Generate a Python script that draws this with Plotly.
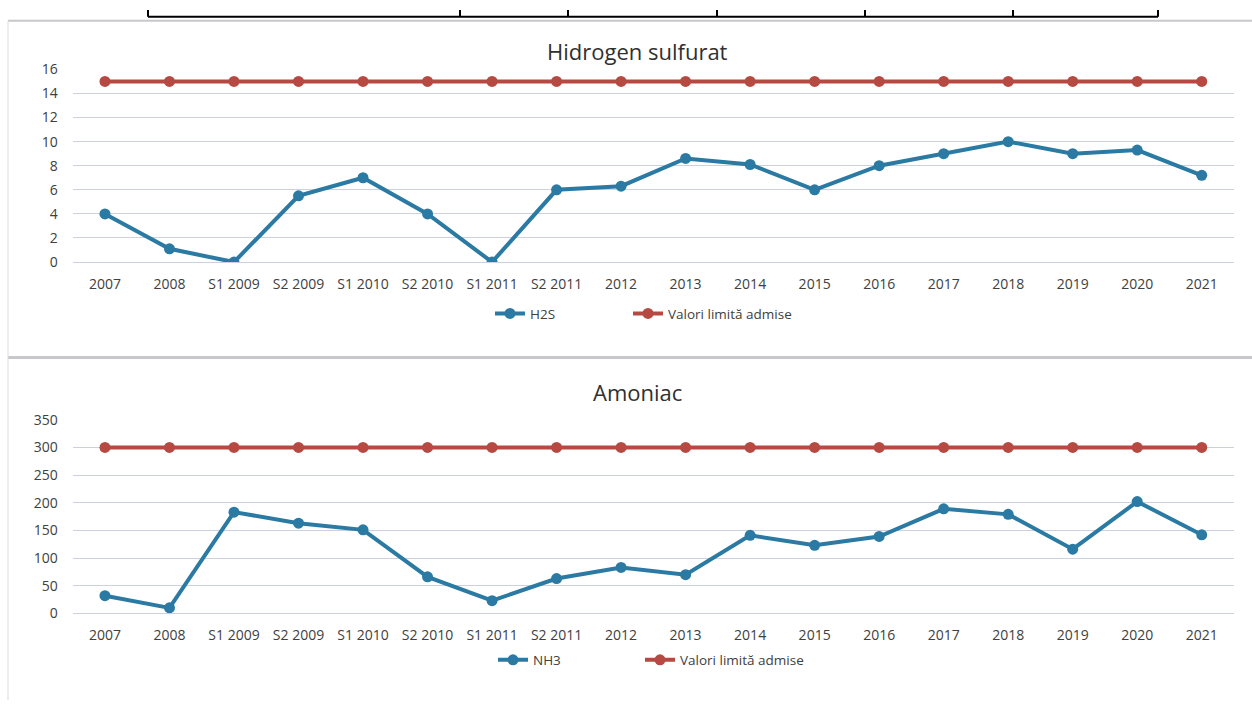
import plotly.graph_objects as go

categories = ["2007", "2008", "S1 2009", "S2 2009", "S1 2010", "S2 2010", "S1 2011", "S2 2011",
              "2012", "2013", "2014", "2015", "2016", "2017", "2018", "2019", "2020", "2021"]
h2s = [4, 1.1, 0, 5.5, 7, 4, 0, 6, 6.3, 8.6, 8.1, 6, 8, 9, 10, 9, 9.3, 7.2]
h2s_limit = [15] * 18
nh3 = [32, 10, 183, 163, 151, 66, 23, 63, 83, 70, 141, 123, 139, 189, 179, 116, 202, 142]
nh3_limit = [300] * 18

BLUE = "#2a7aa3"
RED = "#b64a43"
GRID = "#cdd0e0"
FONT = "Open Sans"
W, H = 1252, 709

def px(x):
    return x / W

def py(y):
    return (H - y) / H

fig = go.Figure()
line_kw = dict(width=4)
mk = dict(size=11)

fig.add_trace(go.Scatter(x=categories, y=h2s, name="H2S", mode="lines+markers",
                         line=dict(color=BLUE, **line_kw), marker=dict(color=BLUE, **mk),
                         xaxis="x", yaxis="y", legend="legend"))
fig.add_trace(go.Scatter(x=categories, y=h2s_limit, name="Valori limită admise", mode="lines+markers",
                         line=dict(color=RED, **line_kw), marker=dict(color=RED, **mk),
                         xaxis="x", yaxis="y", legend="legend2"))
fig.add_trace(go.Scatter(x=categories, y=nh3, name="NH3", mode="lines+markers",
                         line=dict(color=BLUE, **line_kw), marker=dict(color=BLUE, **mk),
                         xaxis="x2", yaxis="y2", legend="legend3"))
fig.add_trace(go.Scatter(x=categories, y=nh3_limit, name="Valori limită admise", mode="lines+markers",
                         line=dict(color=RED, **line_kw), marker=dict(color=RED, **mk),
                         xaxis="x2", yaxis="y2", legend="legend4"))

xdom = [px(72.7), px(1234)]
tickfont = dict(family=FONT, size=14, color="#404040")
xcommon = dict(type="category", domain=xdom, showgrid=False, showline=False, ticks="",
               tickfont=tickfont, ticklabelstandoff=12, range=[-0.5, 17.5], fixedrange=True)
ycommon = dict(showgrid=True, gridcolor=GRID, gridwidth=1, zeroline=True, zerolinecolor=GRID,
               zerolinewidth=1, showline=False, ticks="", tickfont=tickfont, ticklabelstandoff=14)

legend_common = dict(orientation="h", xanchor="left", yanchor="middle",
                     font=dict(family=FONT, size=13.5, color="#404040"),
                     bgcolor="rgba(0,0,0,0)", borderwidth=0)

fig.update_layout(
    width=W, height=H,
    margin=dict(l=0, r=0, t=0, b=0),
    paper_bgcolor="white", plot_bgcolor="white",
    xaxis=dict(anchor="y", **xcommon),
    yaxis=dict(anchor="x", domain=[py(259), py(61)], range=[0, 16], dtick=2, **ycommon),
    xaxis2=dict(anchor="y2", **xcommon),
    yaxis2=dict(anchor="x2", domain=[py(620), py(421)], range=[0, 350], dtick=50, **ycommon),
    legend=dict(x=px(490), y=py(312), **legend_common),
    legend2=dict(x=px(628), y=py(312), **legend_common),
    legend3=dict(x=px(493), y=py(668), **legend_common),
    legend4=dict(x=px(640), y=py(668), **legend_common),
    showlegend=True,
)

fig.add_annotation(text="Hidrogen sulfurat", x=px(637), y=py(42), xref="paper", yref="paper",
                   xanchor="center", yanchor="middle", showarrow=False,
                   font=dict(family=FONT, size=22, color="#303030"))
fig.add_annotation(text="Amoniac", x=px(637), y=py(393), xref="paper", yref="paper",
                   xanchor="center", yanchor="middle", showarrow=False,
                   font=dict(family=FONT, size=22, color="#303030"))

# chart frame lines (scanned page borders)
frame = "#c8c8cc"
fig.add_shape(type="line", xref="paper", yref="paper", x0=px(8), x1=1, y0=py(11), y1=py(11),
              line=dict(color=frame, width=2))
fig.add_shape(type="line", xref="paper", yref="paper", x0=px(8), x1=1, y0=py(357), y1=py(357),
              line=dict(color=frame, width=3))
fig.add_shape(type="line", xref="paper", yref="paper", x0=px(8), x1=px(8), y0=py(11), y1=0,
              line=dict(color="#dcdcdc", width=1))

# table fragment at the top of the page
fig.add_shape(type="line", xref="paper", yref="paper", x0=px(148), x1=px(1158), y0=py(7), y1=py(7),
              line=dict(color="black", width=2))
for xv in [148, 460, 568, 717, 865, 1013, 1158]:
    fig.add_shape(type="line", xref="paper", yref="paper", x0=px(xv), x1=px(xv), y0=py(7), y1=1,
                  line=dict(color="black", width=2))

post = ("document.documentElement.style.margin='0';document.body.style.margin='0';"
        "document.body.style.padding='0';document.body.style.overflow='hidden';"
        "var d=document.getElementById('{plot_id}');d.style.position='fixed';"
        "d.style.top='0px';d.style.left='0px';")
fig.write_html("out.html", post_script=post, config={"displayModeBar": False})
